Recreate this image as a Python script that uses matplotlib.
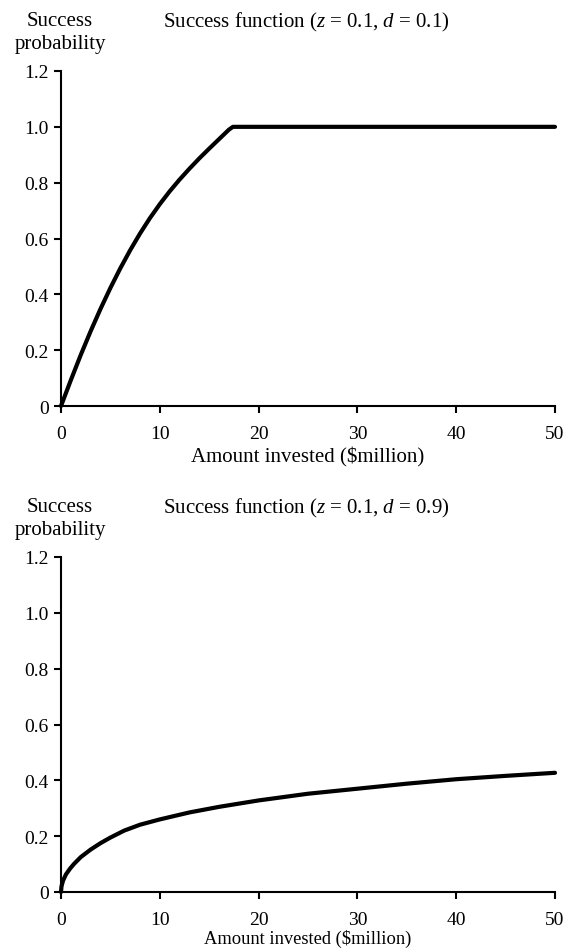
import matplotlib
matplotlib.use("Agg")
import matplotlib.pyplot as plt

plt.rcParams['font.family'] = ['Liberation Serif', 'DejaVu Serif']
plt.rcParams['mathtext.fontset'] = 'custom'
plt.rcParams['mathtext.rm'] = 'Liberation Serif'
plt.rcParams['mathtext.it'] = 'Liberation Serif:italic'

# values
invest_a = [0, 1, 2, 3, 4, 5, 6, 7, 8, 9, 10, 11, 12, 13, 14, 15, 16, 17, 17.4, 50]
prob_a = [0, 0.093, 0.183, 0.268, 0.348, 0.423, 0.493, 0.558, 0.618, 0.673, 0.723,
          0.769, 0.811, 0.850, 0.887, 0.922, 0.956, 0.99, 1.0, 1.0]

invest_b = [0, 0.05, 0.2, 0.5, 0.9, 1.3, 2, 3, 4, 5, 6.4, 8, 10, 13, 16, 20, 25, 30,
            35, 40, 45, 50]
prob_b = [0, 0.02, 0.04, 0.063, 0.083, 0.10, 0.125, 0.152, 0.175, 0.195, 0.22, 0.241,
          0.26, 0.285, 0.305, 0.328, 0.352, 0.37, 0.388, 0.404, 0.416, 0.427]

x_ticks = [0, 10, 20, 30, 40, 50]
x_labels = ['0', '10', '20', '30', '40', '50']
y_ticks = [0, 0.2, 0.4, 0.6, 0.8, 1.0, 1.2]
y_labels = ['0', '0.2', '0.4', '0.6', '0.8', '1.0', '1.2']

titles = ['Success function ($z$ = 0.1, $d$ = 0.1)',
          'Success function ($z$ = 0.1, $d$ = 0.9)']

W, H = 569, 953
fig = plt.figure(figsize=(W / 100, H / 100), dpi=100)


def px(x, y):
    return x / W, 1 - y / H


def draw(top, xs, ys, title, xlabel_size, xlabel_pad):
    ax = fig.add_axes([61 / W, 1 - (top + 335) / H, 494 / W, 335 / H])
    ax.plot(xs, ys, color='black', lw=3, clip_on=False, solid_capstyle='round')
    ax.set_xlim(0, 50)
    ax.set_ylim(0, 1.2)
    ax.set_xticks(x_ticks)
    ax.set_xticklabels(x_labels)
    ax.set_yticks(y_ticks)
    ax.set_yticklabels(y_labels)
    for s in ['top', 'right']:
        ax.spines[s].set_visible(False)
    for s in ['left', 'bottom']:
        ax.spines[s].set_linewidth(1.5)
    ax.tick_params(direction='out', length=5, width=1.5, labelsize=14)
    ax.tick_params(axis='x', pad=9)
    ax.tick_params(axis='y', pad=4)
    ax.set_xlabel('Amount invested ($million)', fontsize=xlabel_size, labelpad=xlabel_pad)
    fig.text(*px(60, top - 51), 'Success', ha='center', va='center', fontsize=15)
    fig.text(*px(60, top - 27), 'probability', ha='center', va='center', fontsize=15)
    fig.text(*px(163, top - 50), title, ha='left', va='center', fontsize=15)
    return ax


draw(72, invest_a, prob_a, titles[0], 15, 3)
draw(558, invest_b, prob_b, titles[1], 13.3, 0)

fig.savefig('out.png', dpi=100)
